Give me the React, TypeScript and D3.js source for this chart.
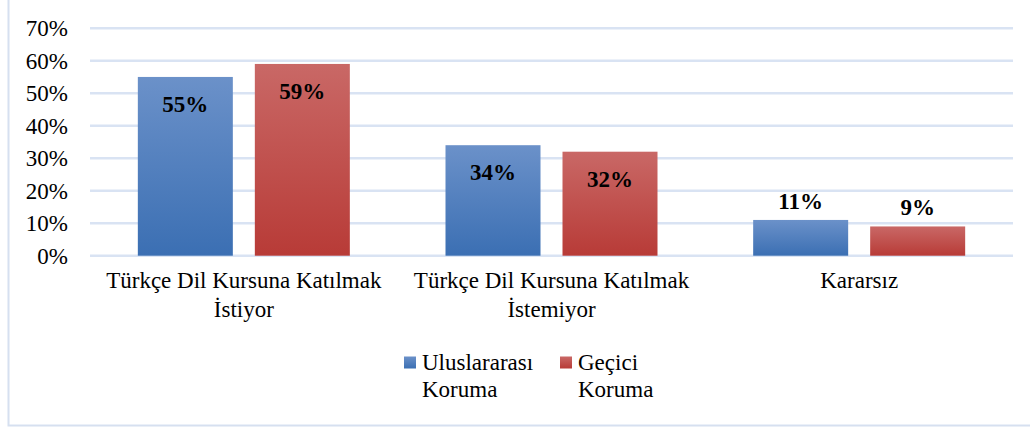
import React from "react";
import * as d3 from "d3";

const categories = [
  ["Türkçe Dil Kursuna Katılmak", "İstiyor"],
  ["Türkçe Dil Kursuna Katılmak", "İstemiyor"],
  ["Kararsız"],
];
const seriesNames = [["Uluslararası", "Koruma"], ["Geçici", "Koruma"]];
const uluslararasi = [55, 34, 11];
const gecici = [59, 32, 9];
const yTicks = [0, 10, 20, 30, 40, 50, 60, 70];

const W = 1030;
const H = 428;
const FONT = "Times New Roman";
const FS = 23;

export default function App() {
  const x0 = d3.scaleBand<number>().domain([0, 1, 2]).range([90, 1013]).paddingInner(0).paddingOuter(0);
  const groupInner = 212;
  const barW = 95;
  const x1 = d3.scaleBand<number>().domain([0, 1]).range([0, groupInner]).paddingInner(22 / 117).paddingOuter(0);
  const y = d3.scaleLinear().domain([0, 70]).range([255.7, 28.2]);
  const series = [uluslararasi, gecici];
  const gradIds = ["gBlue", "gRed"];

  return (
    <svg width={W} height={H} style={{ position: "absolute", left: 0, top: 0, background: "#fff" }}>
      <defs>
        <linearGradient id="gBlue" x1="0" y1="0" x2="0" y2="1">
          <stop offset="0%" stopColor="#6b91c9" />
          <stop offset="100%" stopColor="#3b6fb3" />
        </linearGradient>
        <linearGradient id="gRed" x1="0" y1="0" x2="0" y2="1">
          <stop offset="0%" stopColor="#c96866" />
          <stop offset="100%" stopColor="#b83b37" />
        </linearGradient>
      </defs>
      <rect x={8.5} y={-10} width={1100} height={435.5} fill="none" stroke="#d6e0f0" strokeWidth={2} />
      {yTicks.map((t) => (
        <line key={t} x1={90} x2={1013} y1={y(t)} y2={y(t)} stroke="#d9e3f3" strokeWidth={2.5} />
      ))}
      {categories.map((cat, i) => {
        const gx = (x0(i) as number) + (x0.bandwidth() - groupInner) / 2;
        return series.map((s, j) => {
          const bx = gx + (x1(j) as number);
          const top = y(s[i]);
          return (
            <rect key={`${i}-${j}`} x={bx} y={top} width={barW} height={y(0) - top} fill={`url(#${gradIds[j]})`} />
          );
        });
      })}
      {seriesNames.map((name, j) => (
        <rect key={j} x={[404, 560][j]} y={356.5} width={12} height={12} fill={`url(#${gradIds[j]})`} />
      ))}
      {yTicks.map((t) => (
        <text key={"t" + t} x={68} y={y(t) + 8} textAnchor="end" fontFamily={FONT} fontSize={FS}>
          {`${t}%`}
        </text>
      ))}
      {categories.map((cat, i) => {
        const gx = (x0(i) as number) + (x0.bandwidth() - groupInner) / 2;
        return (
          <g key={"c" + i}>
            {series.map((s, j) => {
              const bx = gx + (x1(j) as number);
              const v = s[i];
              const top = y(v);
              const inside = v > 20;
              return (
                <text
                  key={j}
                  x={bx + barW / 2}
                  y={inside ? top + 35 : top - 11}
                  textAnchor="middle"
                  fontFamily={FONT}
                  fontSize={FS}
                  fontWeight="bold"
                >
                  {`${v}%`}
                </text>
              );
            })}
            {cat.map((line, k) => (
              <text
                key={"l" + k}
                x={(x0(i) as number) + x0.bandwidth() / 2}
                y={288 + k * 28.5}
                textAnchor="middle"
                fontFamily={FONT}
                fontSize={FS}
              >
                {line}
              </text>
            ))}
          </g>
        );
      })}
      {seriesNames.map((name, j) =>
        name.map((ln, k) => (
          <text key={`${j}-${k}`} x={[404, 560][j] + 18} y={369.5 + k * 27.5} fontFamily={FONT} fontSize={FS}>
            {ln}
          </text>
        ))
      )}
    </svg>
  );
}
